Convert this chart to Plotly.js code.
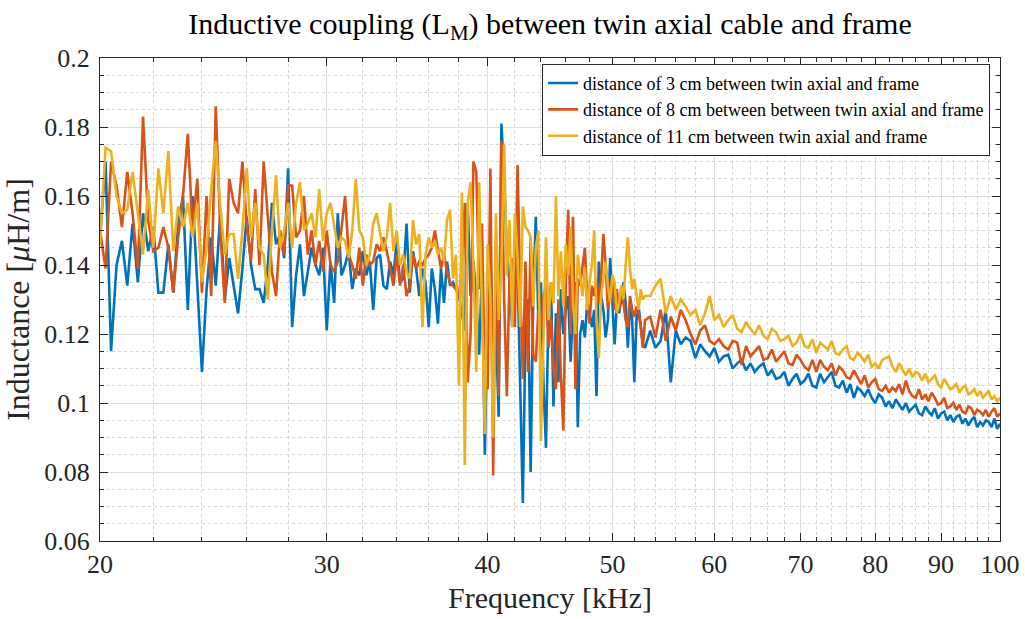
<!DOCTYPE html>
<html>
<head>
<meta charset="utf-8">
<script src="https://cdn.plot.ly/plotly-3.0.1.min.js"></script>
<style>html,body{margin:0;padding:0;background:#fff}</style>
</head>
<body>
<div id="chart" style="width:1025px;height:619px"></div>
<script>
// ---------- data ----------
const seriesNames = [
  'distance of 3 cm between twin axial and frame',
  'distance of 8 cm between between twin axial and frame',
  'distance of 11 cm between twin axial and frame'
];

// frequency grid in kHz: 20.0 .. 53.0 every 0.2, then 53.5 .. 100 every 0.5
const freqKHz = [];
for (let i = 0; i <= 165; i++) freqKHz.push(+(20 + 0.2 * i).toFixed(1));
for (let i = 1; i <= 94; i++) freqKHz.push(+(53 + 0.5 * i).toFixed(1));

// inductance [uH/m], 3 cm
const dist3cm = [
  0.148,0.170,0.115,0.140,0.147,0.134,0.152,0.135,0.155,0.144,0.151,0.132,0.132,0.146,0.132,0.152,0.160,0.127,0.160,0.136,0.109,0.133,0.148,0.134,0.155,0.130,0.142,0.134,0.126,
  0.139,0.154,0.140,0.133,0.133,0.129,0.140,0.158,0.146,0.149,0.142,0.168,0.122,0.137,0.146,0.131,0.138,0.145,0.140,0.137,0.145,0.121,0.141,0.129,0.155,0.137,0.140,0.144,0.133,0.139,0.137,0.144,0.137,0.141,0.127,
  0.142,0.143,0.134,0.133,0.141,0.137,0.147,0.135,0.136,0.152,0.132,0.144,0.139,0.131,0.139,0.135,0.122,0.139,0.133,0.123,0.139,0.129,0.141,0.134,0.135,0.133,0.131,0.126,0.121,0.158,0.131,0.141,0.130,0.114,0.139,0.085,0.128,0.143,0.113,0.121,0.096,0.181,0.165,0.143,0.135,
  0.122,0.146,0.139,0.100,0.071,0.120,0.130,0.080,0.131,0.154,0.124,0.135,0.106,0.087,0.127,0.135,0.099,0.126,0.106,0.133,0.120,0.127,0.131,0.112,0.127,0.135,0.093,0.120,0.124,0.119,0.129,0.126,0.122,0.127,0.102,0.141,0.131,0.127,0.119,0.124,0.142,0.129,0.117,0.129,0.126,0.130,0.135,0.129,0.116,0.128,0.124,0.106,0.124,0.128,0.122,0.117,0.116,
  0.121,0.116,0.118,0.127,0.106,0.121,0.117,0.119,0.118,0.113,
  0.117,0.115,0.1135,0.116,0.112,0.1135,0.114,0.110,0.1115,0.1125,
  0.1095,0.1115,0.109,0.1105,0.1115,0.108,0.1095,0.107,0.1075,0.109,
  0.105,0.107,0.1085,0.1055,0.1065,0.1085,0.105,0.1045,
  0.1085,0.106,0.1075,0.109,0.105,0.1045,0.1065,0.103,0.1055,0.1015,
  0.1045,0.1035,0.102,0.104,0.1015,0.100,0.1025,0.1015,0.099,0.1005,
  0.0985,0.101,0.0995,0.098,0.100,0.0975,0.0985,0.0995,0.097,0.0965,
  0.099,0.0975,0.0965,0.0985,0.0955,0.097,0.0975,0.095,0.0965,0.0945,
  0.096,0.0965,0.094,0.0955,0.0935,0.095,0.096,0.093,0.0945,0.0935,
  0.095,0.0945,0.093,0.0955,0.0925,0.094
];

// inductance [uH/m], 8 cm
const dist8cm = [
  0.150,0.139,0.170,0.163,0.151,0.167,0.155,0.139,0.183,0.153,0.144,0.145,0.151,0.145,0.132,0.148,0.160,0.178,0.150,0.165,0.132,0.160,0.131,0.186,0.150,0.129,0.165,0.158,0.155,
  0.170,0.152,0.141,0.162,0.140,0.170,0.155,0.138,0.131,0.150,0.143,0.163,0.163,0.148,0.150,0.160,0.143,0.150,0.140,0.147,0.138,0.150,0.140,0.138,0.141,0.150,0.160,0.143,0.140,0.136,0.145,0.134,0.143,0.140,0.141,
  0.146,0.144,0.148,0.144,0.139,0.134,0.143,0.134,0.140,0.131,0.134,0.143,0.139,0.141,0.140,0.142,0.143,0.145,0.150,0.144,0.139,0.143,0.138,0.135,0.134,0.133,0.131,0.139,0.158,0.106,0.120,0.170,0.167,0.133,0.152,0.106,0.104,0.168,0.079,0.148,0.102,0.176,0.130,0.102,0.137,
  0.142,0.122,0.169,0.133,0.107,0.141,0.109,0.148,0.114,0.112,0.127,0.121,0.131,0.134,0.116,0.125,0.110,0.104,0.130,0.108,0.092,0.135,0.156,0.120,0.154,0.104,0.136,0.134,0.140,0.145,0.130,0.123,0.134,0.131,0.136,0.129,0.136,0.149,0.140,0.127,0.132,0.137,0.127,0.133,0.127,0.133,0.129,0.124,0.122,0.131,0.127,0.125,0.128,0.126,0.122,0.116,0.124,
  0.125,0.119,0.127,0.118,0.125,0.121,0.127,0.124,0.120,0.117,
  0.121,0.1225,0.118,0.117,0.1185,0.1165,0.1155,0.118,0.1175,0.111,
  0.1165,0.1135,0.115,0.1165,0.1125,0.113,0.1155,0.112,0.1135,0.115,
  0.1115,0.111,0.114,0.1125,0.1105,0.1095,0.1125,0.109,
  0.1125,0.1105,0.1095,0.1115,0.108,0.1105,0.1095,0.1075,0.107,0.1095,
  0.1075,0.1055,0.108,0.1045,0.106,0.107,0.104,0.1035,0.105,0.103,
  0.1045,0.1035,0.1055,0.1025,0.1065,0.1035,0.102,0.1015,0.104,0.101,
  0.1025,0.1005,0.103,0.1015,0.0995,0.100,0.1015,0.0985,0.099,0.100,
  0.098,0.0995,0.0975,0.097,0.099,0.0985,0.0965,0.098,0.0975,0.0965,
  0.098,0.096,0.0975,0.0985,0.096,0.097
];

// inductance [uH/m], 11 cm
const dist11cm = [
  0.146,0.174,0.173,0.160,0.155,0.156,0.167,0.155,0.143,0.162,0.145,0.168,0.155,0.173,0.144,0.157,0.151,0.158,0.148,0.158,0.135,0.145,0.162,0.176,0.157,0.143,0.149,0.149,0.136,
  0.150,0.168,0.148,0.158,0.145,0.143,0.130,0.150,0.166,0.145,0.150,0.158,0.145,0.158,0.164,0.150,0.152,0.155,0.148,0.162,0.147,0.155,0.158,0.152,0.145,0.148,0.147,0.142,0.150,0.165,0.150,0.148,0.140,0.143,0.152,
  0.155,0.150,0.144,0.148,0.158,0.144,0.150,0.140,0.143,0.138,0.136,0.153,0.146,0.149,0.122,0.143,0.148,0.145,0.147,0.143,0.145,0.141,0.153,0.156,0.136,0.143,0.105,0.161,0.082,0.158,0.164,0.140,0.109,0.164,0.130,0.091,0.146,0.131,0.090,0.155,0.124,0.140,0.175,0.137,0.153,
  0.122,0.155,0.142,0.122,0.157,0.151,0.150,0.148,0.128,0.145,0.150,0.089,0.120,0.148,0.124,0.135,0.129,0.160,0.131,0.144,0.128,0.146,0.137,0.151,0.129,0.120,0.143,0.136,0.131,0.139,0.127,0.135,0.140,0.150,0.124,0.113,0.131,0.136,0.141,0.134,0.129,0.137,0.135,0.126,0.129,0.134,0.130,0.140,0.148,0.139,0.133,0.136,0.131,0.127,0.133,0.130,0.131,
  0.131,0.134,0.136,0.126,0.131,0.127,0.130,0.128,0.1255,0.127,
  0.1225,0.126,0.131,0.124,0.1255,0.122,0.124,0.1255,0.1215,0.1205,
  0.1235,0.1215,0.120,0.1225,0.1195,0.1185,0.1215,0.1205,0.118,0.1185,
  0.1195,0.1165,0.1175,0.120,0.1165,0.116,0.1185,0.1145,
  0.1175,0.1165,0.1155,0.118,0.1145,0.114,0.1155,0.1165,0.113,0.1125,
  0.1145,0.1135,0.112,0.114,0.1105,0.1115,0.110,0.1125,0.113,0.1135,
  0.1105,0.109,0.1115,0.1095,0.108,0.110,0.1075,0.109,0.1085,0.1065,
  0.1085,0.106,0.107,0.108,0.1055,0.1045,0.107,0.1055,0.104,0.1045,
  0.1055,0.103,0.1045,0.105,0.1025,0.103,0.104,0.102,0.1035,0.1015,
  0.1025,0.1035,0.101,0.102,0.1005,0.1015
];

const xTickVals = [20, 30, 40, 50, 60, 70, 80, 90, 100];
const xTickText = ['20', '30', '40', '50', '60', '70', '80', '90', '100'];
const yTickVals = [0.06, 0.08, 0.1, 0.12, 0.14, 0.16, 0.18, 0.2];
const yTickText = ['0.06', '0.08', '0.1', '0.12', '0.14', '0.16', '0.18', '0.2'];

// ---------- chart ----------
const colors = ['#0072BD', '#D95319', '#EDB120'];
const serif = 'Liberation Serif, Times New Roman, serif';
const axisCol = '#262626';

const xMinor = [];
for (let v = 22; v < 100; v += 2) if (v % 10 !== 0) xMinor.push(v);

const traces = [dist3cm, dist8cm, dist11cm].map((ys, i) => ({
  x: freqKHz, y: ys, type: 'scatter', mode: 'lines', name: seriesNames[i],
  line: {color: colors[i], width: 2.6}, hoverinfo: 'skip'
}));

const layout = {
  width: 1025, height: 619,
  margin: {l: 100, r: 25, t: 58, b: 78},
  paper_bgcolor: '#fff', plot_bgcolor: '#fff',
  font: {family: serif, color: axisCol},
  title: {
    text: 'Inductive coupling (L<sub>M</sub>) between twin axial cable and frame',
    font: {family: serif, size: 30, color: '#000'},
    x: 0.5, xref: 'paper', y: 0.962, yref: 'container', yanchor: 'middle'
  },
  showlegend: true,
  legend: {
    x: 0.989, y: 0.988, xanchor: 'right', yanchor: 'top',
    bgcolor: '#fff', bordercolor: axisCol, borderwidth: 1,
    font: {family: serif, size: 18, color: '#000'},
    itemwidth: 30, tracegroupgap: 0
  },
  xaxis: {
    type: 'log', range: [Math.log10(20), Math.log10(100)],
    tickmode: 'array', tickvals: xTickVals, ticktext: xTickText,
    ticks: 'inside', ticklen: 8, tickwidth: 1, tickcolor: axisCol,
    showline: true, linecolor: axisCol, linewidth: 1, mirror: 'ticks',
    showgrid: true, gridcolor: '#dedede', gridwidth: 1, zeroline: false,
    tickfont: {family: serif, size: 26, color: axisCol},
    minor: {tickmode: 'array', tickvals: xMinor, ticks: 'inside', ticklen: 4, tickcolor: axisCol,
            showgrid: true, gridcolor: '#d6d6d6', griddash: 'dot', gridwidth: 1},
    title: {text: 'Frequency [kHz]', font: {family: serif, size: 30, color: axisCol}, standoff: 8},
    automargin: false
  },
  yaxis: {
    range: [0.06, 0.2],
    tickmode: 'array', tickvals: yTickVals, ticktext: yTickText,
    ticks: 'inside', ticklen: 8, tickwidth: 1, tickcolor: axisCol,
    ticklabelstandoff: 4,
    showline: true, linecolor: axisCol, linewidth: 1, mirror: 'ticks',
    showgrid: true, gridcolor: '#dedede', gridwidth: 1, zeroline: false,
    tickfont: {family: serif, size: 26, color: axisCol},
    minor: {dtick: 0.005, tick0: 0.06, ticks: 'inside', ticklen: 4, tickcolor: axisCol,
            showgrid: true, gridcolor: '#d6d6d6', griddash: 'dot', gridwidth: 1},
    title: {text: 'Inductance [<i>μ</i>H/m]', font: {family: serif, size: 32, color: axisCol}, standoff: 6},
    automargin: false
  }
};

Plotly.newPlot('chart', traces, layout, {displayModeBar: false, staticPlot: true});
</script>
</body>
</html>
